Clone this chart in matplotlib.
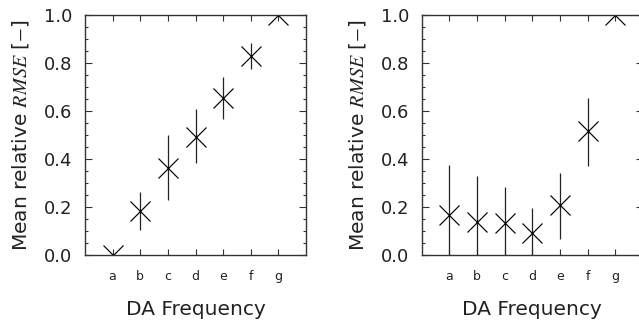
import matplotlib
matplotlib.use("Agg")
import matplotlib.pyplot as plt
import numpy as np
from matplotlib.ticker import MultipleLocator

plt.rcParams['font.family'] = ['DejaVu Sans']
plt.rcParams['mathtext.fontset'] = 'stix'

# categories
freq = ['a', 'b', 'c', 'd', 'e', 'f', 'g']

# left panel: mean relative RMSE and error bar ends
left_mean = [0.0, 0.183, 0.364, 0.493, 0.653, 0.829, 1.0]
left_lo = [0.0, 0.104, 0.229, 0.382, 0.567, 0.774, 1.0]
left_hi = [0.0, 0.261, 0.500, 0.610, 0.743, 0.885, 1.0]

# right panel
right_mean = [0.167, 0.139, 0.132, 0.090, 0.208, 0.517, 1.0]
right_lo = [-0.05, -0.05, -0.05, -0.05, 0.065, 0.371, 1.0]
right_hi = [0.375, 0.329, 0.282, 0.194, 0.343, 0.655, 1.0]

fig = plt.figure(figsize=(6.39, 3.27), dpi=100)
ax1 = fig.add_axes([0.133, 0.220, 0.346, 0.734])
ax2 = fig.add_axes([0.660, 0.220, 0.346, 0.734])


def draw(ax, mean, lo, hi):
    x = np.arange(1, len(freq) + 1)
    mean = np.array(mean)
    yerr = [mean - np.array(lo), np.array(hi) - mean]
    ax.errorbar(x, mean, yerr=yerr, fmt='none', ecolor='#222222',
                elinewidth=0.9, capsize=0)
    ax.plot(x, mean, linestyle='none', marker='x', markersize=14.5,
            markeredgewidth=0.85, color='black')
    ax.set_xlim(0, 8)
    ax.set_ylim(0, 1.0)
    ax.set_xticks(x)
    ax.set_xticklabels(freq, fontsize=9, color='#222222')
    ax.set_yticks(np.arange(0, 1.01, 0.2))
    ax.set_yticklabels(['%.1f' % v for v in np.arange(0, 1.01, 0.2)],
                       fontsize=13, color='#222222')
    ax.yaxis.set_minor_locator(MultipleLocator(0.05))
    ax.tick_params(axis='both', which='both', direction='in',
                   top=True, right=True, color='#333333')
    ax.tick_params(axis='y', which='major', length=5, width=0.8, pad=9)
    ax.tick_params(axis='y', which='minor', length=2.5, width=0.8)
    ax.tick_params(axis='x', which='major', length=4, width=0.8, pad=11)
    for s in ax.spines.values():
        s.set_linewidth(1.0)
        s.set_color('#333333')
    ax.set_xlabel('DA Frequency', fontsize=14.5, labelpad=12, color='#222222')
    ax.set_ylabel(r'Mean relative $RMSE$ [$-$]', fontsize=14.5, labelpad=9,
                  color='#222222')


draw(ax1, left_mean, left_lo, left_hi)
draw(ax2, right_mean, right_lo, right_hi)

fig.savefig('out.png', dpi=100)
